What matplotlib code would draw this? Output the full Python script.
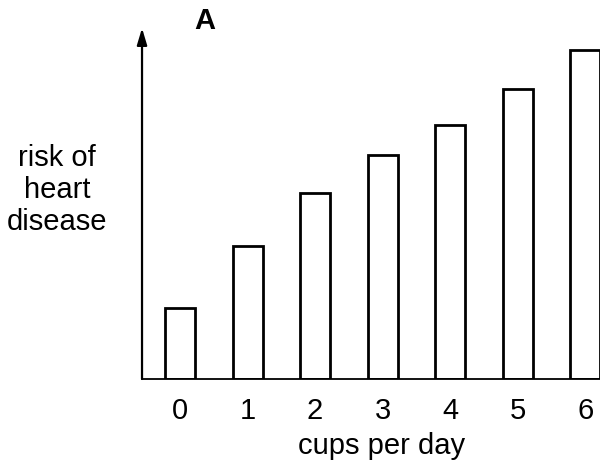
import matplotlib
matplotlib.use("Agg")
import matplotlib.pyplot as plt

# data (arbitrary risk units)
cups = [0, 1, 2, 3, 4, 5, 6]
risk = [71, 133, 186, 224, 254, 290, 329]
tick_labels = ["0", "1", "2", "3", "4", "5", "6"]

plt.rcParams['font.family'] = ['Liberation Sans', 'DejaVu Sans']

fig = plt.figure(figsize=(6, 4.61), dpi=100)
ax = fig.add_axes([0.2367, 0.178, 0.7633, 0.761])

ax.bar(cups, risk, width=0.445, facecolor='white', edgecolor='black', linewidth=2.0)

ax.set_xlim(-0.563, 6.22)
ax.set_ylim(0, 351)

for side in ['top', 'right', 'left']:
    ax.spines[side].set_visible(False)
ax.spines['bottom'].set_linewidth(1.3)

# y axis drawn as an arrow
ax.annotate('', xy=(0, 1.0), xytext=(0, 0), xycoords='axes fraction',
            arrowprops=dict(arrowstyle='-|>,head_length=1.0,head_width=0.3',
                            color='black', linewidth=1.6, shrinkA=0, shrinkB=0))

ax.set_xticks(cups)
ax.set_xticklabels(tick_labels, fontsize=21)
ax.tick_params(axis='x', length=0, pad=13)
ax.set_yticks([])
ax.set_xlabel('cups per day', fontsize=21, labelpad=5)
ax.xaxis.label.set_x(0.524)

fig.text(0.095, 0.588, 'risk of\nheart\ndisease', ha='center', va='center',
         fontsize=21, linespacing=1.2)
fig.text(0.342, 0.955, 'A', ha='center', va='center', fontsize=21, fontweight='bold')

fig.savefig('out.png', dpi=100)
